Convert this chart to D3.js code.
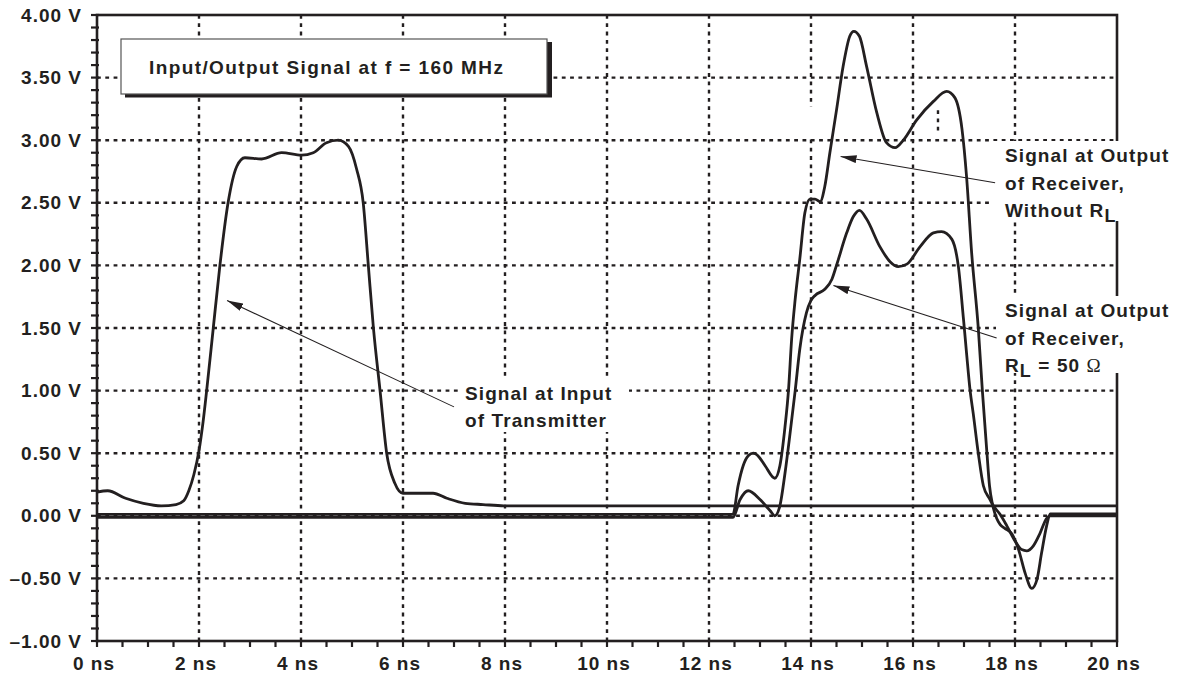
<!DOCTYPE html>
<html><head><meta charset="utf-8">
<script src="https://cdn.jsdelivr.net/npm/d3@7"></script>
<style>
html,body{margin:0;padding:0;background:#fff;}
svg{display:block;}
text{font-family:"Liberation Sans",Arial,Helvetica,sans-serif;font-weight:bold;fill:#231f20;}
</style>
</head><body>
<svg id="chart" width="1177" height="676"></svg>
<script>
// ---------- data ----------
const timeTicks = [0,2,4,6,8,10,12,14,16,18,20];
const timeTickLabels = ["0 ns","2 ns","4 ns","6 ns","8 ns","10 ns","12 ns","14 ns","16 ns","18 ns","20 ns"];
const voltTicks = [4,3.5,3,2.5,2,1.5,1,0.5,0,-0.5,-1];
const voltTickLabels = ["4.00 V","3.50 V","3.00 V","2.50 V","2.00 V","1.50 V","1.00 V","0.50 V","0.00 V","\u20130.50 V","\u20131.00 V"];

// Signal at input of transmitter
const txTime = [0,0.21,0.56,0.91,1.26,1.55,1.70,1.80,1.90,2.0,2.08,2.15,2.28,2.41,2.57,2.74,2.90,3.23,3.62,4.01,4.24,4.50,4.73,4.93,5.09,5.22,5.32,5.42,5.55,5.68,5.84,6.0,6.27,6.59,6.86,7.22,7.57,7.98,20];
const txVolt = [0.19,0.20,0.14,0.10,0.08,0.09,0.12,0.20,0.33,0.52,0.75,1.0,1.5,2.0,2.5,2.79,2.86,2.85,2.90,2.88,2.90,2.98,3.00,2.95,2.77,2.5,2.0,1.5,1.0,0.5,0.26,0.18,0.18,0.18,0.14,0.10,0.09,0.08,0.08];

// Signal at output of receiver, without RL
const rxNoLoadTime = [0,12.47,12.57,12.67,12.77,12.87,12.98,13.10,13.29,13.39,13.49,13.56,13.62,13.69,13.78,13.88,13.98,14.08,14.18,14.27,14.37,14.50,14.63,14.76,14.84,14.95,15.09,15.29,15.48,15.65,15.81,16.07,16.40,16.66,16.82,16.96,17.05,17.15,17.28,17.36,17.45,17.50,17.56,17.64,17.71,17.80,17.93,18.07,18.20,18.33,18.43,18.52,18.62,18.69,20];
const rxNoLoadVolt = [0.012,0.012,0.24,0.40,0.48,0.50,0.47,0.40,0.30,0.40,0.71,1.01,1.41,1.73,2.05,2.42,2.53,2.53,2.51,2.63,2.90,3.24,3.59,3.83,3.87,3.83,3.59,3.22,2.98,2.94,3.0,3.16,3.31,3.39,3.34,3.09,2.71,2.10,1.5,1.0,0.5,0.24,0.09,-0.02,-0.07,-0.10,-0.14,-0.27,-0.46,-0.58,-0.51,-0.30,-0.08,0.015,0.015];

// Signal at output of receiver, RL = 50 ohm
const rxLoadTime = [0,12.47,12.61,12.77,13.0,13.20,13.29,13.39,13.49,13.59,13.69,13.78,13.91,14.0,14.08,14.27,14.41,14.50,14.70,14.83,14.95,15.09,15.35,15.55,15.71,15.88,16.14,16.40,16.56,16.76,16.89,16.99,17.05,17.12,17.18,17.28,17.38,17.51,17.56,17.71,17.84,18.0,18.13,18.23,18.36,18.49,18.62,18.69,20];
const rxLoadVolt = [-0.012,-0.012,0.13,0.20,0.13,0.04,0.0,0.08,0.34,0.66,1.0,1.33,1.62,1.72,1.76,1.81,1.89,2.0,2.26,2.39,2.44,2.37,2.15,2.03,1.99,2.01,2.15,2.26,2.27,2.21,1.99,1.57,1.3,1.0,0.82,0.5,0.24,0.13,0.09,0.01,-0.08,-0.20,-0.27,-0.28,-0.24,-0.14,-0.02,0.0,0.0];

const titleText = "Input/Output Signal at f = 160 MHz";

// ---------- drawing ----------
const svg = d3.select("#chart");
const W = 1177, H = 676;
const x = d3.scaleLinear().domain([0,20]).range([97,1117]);
const y = d3.scaleLinear().domain([-1,4]).range([641,15]);
const ink = "#231f20";

svg.append("rect").attr("width",W).attr("height",H).attr("fill","#fff");

// grid
const grid = svg.append("g").attr("stroke",ink).attr("stroke-width",2.4).attr("stroke-dasharray","3.8,4.5");
grid.selectAll("line.v").data(timeTicks.filter(t=>t>0&&t<20)).join("line")
  .attr("x1",d=>x(d)).attr("x2",d=>x(d)).attr("y1",y(4)).attr("y2",y(-1));
grid.selectAll("line.h").data(voltTicks.filter(v=>v>-1&&v<4)).join("line")
  .attr("class","h")
  .attr("x1",x(0)).attr("x2",x(20)).attr("y1",d=>y(d)).attr("y2",d=>y(d));

// small gap on 14 ns grid line and stray dotted segment (as in original)
svg.append("rect").attr("x",x(14)-4).attr("y",y(3.27)).attr("width",8).attr("height",y(3.01)-y(3.27)).attr("fill","#fff");
svg.append("line").attr("x1",x(16.49)).attr("x2",x(16.49)).attr("y1",y(3.24)).attr("y2",y(3.06))
  .attr("stroke",ink).attr("stroke-width",2.4).attr("stroke-dasharray","3.8,4.5");

// minor ticks
const ticks = svg.append("g").attr("stroke",ink).attr("stroke-width",2.2);
ticks.selectAll("line.yt").data(d3.range(-10,41).map(i=>i/10)).join("line")
  .attr("x1",x(0)-6).attr("x2",x(0)+2).attr("y1",d=>y(d)).attr("y2",d=>y(d));
ticks.selectAll("line.xt").data(d3.range(0,41).map(i=>i/2)).join("line")
  .attr("class","xt")
  .attr("x1",d=>x(d)).attr("x2",d=>x(d)).attr("y1",y(-1)).attr("y2",y(-1)+6);

// frame
svg.append("rect").attr("x",x(0)).attr("y",y(4)).attr("width",x(20)-x(0)).attr("height",y(-1)-y(4))
  .attr("fill","none").attr("stroke",ink).attr("stroke-width",2.6);

// label boxes (white, hiding grid & frame)
const boxes = [
  {x0:993,y0:141,x1:1177,y1:221},
  {x0:996,y0:296,x1:1177,y1:373},
  {x0:458,y0:376,x1:629,y1:432}
];
svg.selectAll("rect.lb").data(boxes).join("rect").attr("class","lb")
  .attr("x",d=>d.x0).attr("y",d=>d.y0).attr("width",d=>d.x1-d.x0).attr("height",d=>d.y1-d.y0).attr("fill","#fff");

// curves
const line = d3.line().x(d=>x(d[0])).y(d=>y(d[1])).curve(d3.curveMonotoneX);
const series = [
  {t:txTime,v:txVolt},
  {t:rxNoLoadTime,v:rxNoLoadVolt},
  {t:rxLoadTime,v:rxLoadVolt}
];
svg.append("g").selectAll("path").data(series).join("path")
  .attr("d",s=>line(s.t.map((t,i)=>[t,s.v[i]])))
  .attr("fill","none").attr("stroke",ink).attr("stroke-width",2.8).attr("stroke-linejoin","round");

// axis labels
svg.append("g").selectAll("text").data(voltTicks).join("text")
  .attr("x",82).attr("y",d=>y(d)+6.5).attr("text-anchor","end")
  .style("font-size","19px").style("letter-spacing","1px")
  .text((d,i)=>voltTickLabels[i]);
svg.append("g").selectAll("text").data(timeTicks).join("text")
  .attr("x",d=>x(d)-3).attr("y",670).attr("text-anchor","middle")
  .style("font-size","19px").style("letter-spacing","1px")
  .text((d,i)=>timeTickLabels[i]);

// title box
svg.append("rect").attr("x",125).attr("y",42).attr("width",427).attr("height",55.5).attr("fill",ink);
svg.append("rect").attr("x",121).attr("y",39).attr("width",426).attr("height",55).attr("fill","#fff").attr("stroke","#555").attr("stroke-width",1.2);
svg.append("text").attr("x",149).attr("y",73.5).style("font-size","19px").style("letter-spacing","1.4px").text(titleText);

// arrows
const defs = svg.append("defs");
defs.append("marker").attr("id","ah").attr("viewBox","0 0 16 8").attr("refX",16).attr("refY",4)
  .attr("markerWidth",16).attr("markerHeight",8).attr("markerUnits","userSpaceOnUse").attr("orient","auto")
  .append("path").attr("d","M0,0 L16,4 L0,8 Z").attr("fill",ink);
const arrows = [
  {t0:7.0,v0:0.87,t1:2.55,v1:1.72},
  {t0:17.61,v0:2.66,t1:14.58,v1:2.87},
  {t0:17.64,v0:1.42,t1:14.44,v1:1.84}
];
svg.append("g").selectAll("line").data(arrows).join("line")
  .attr("x1",d=>x(d.t0)).attr("y1",d=>y(d.v0)).attr("x2",d=>x(d.t1)).attr("y2",d=>y(d.v1))
  .attr("stroke",ink).attr("stroke-width",1.1).attr("marker-end","url(#ah)");

// annotation texts
function label(x0, baselines, lines){
  const g = svg.append("g");
  lines.forEach((ln,i)=>{
    const t = g.append("text").attr("x",x0).attr("y",baselines[i]).style("font-size","19px").style("letter-spacing","1.1px");
    ln.forEach(part=>{
      const s = t.append("tspan").text(part.s);
      if(part.sub){ s.attr("dy",5).style("font-size","18px"); }
      if(part.up){ s.attr("dy",-5); }
      if(part.omega){ s.style("font-family","'Liberation Serif','Times New Roman',serif").style("font-weight","normal"); }
    });
  });
}
label(1005,[162,190,217],[
  [{s:"Signal at Output"}],
  [{s:"of Receiver,"}],
  [{s:"Without R"},{s:"L",sub:true}]
]);
label(1005,[317,345,372],[
  [{s:"Signal at Output"}],
  [{s:"of Receiver,"}],
  [{s:"R"},{s:"L",sub:true},{s:" = 50 ",up:true},{s:"\u03A9",omega:true}]
]);
label(465,[400,427],[
  [{s:"Signal at Input"}],
  [{s:"of Transmitter"}]
]);
</script>
</body></html>
